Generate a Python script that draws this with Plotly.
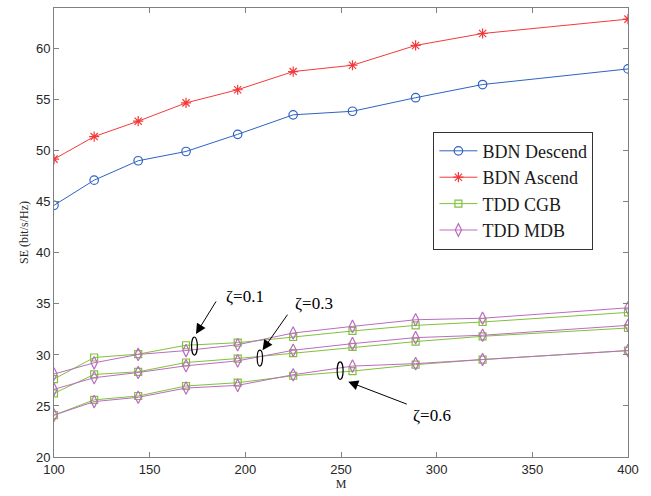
import plotly.graph_objects as go

M = [100, 121, 144, 169, 196, 225, 256, 289, 324, 400]

bdn_descend = [44.66, 47.13, 49.03, 49.94, 51.62, 53.53, 53.88, 55.21, 56.5, 58.03]
bdn_ascend = [49.19, 51.4, 52.91, 54.7, 55.99, 57.77, 58.39, 60.33, 61.5, 62.91]

cgb_z01 = [27.64, 29.75, 30.08, 30.95, 31.2, 31.76, 32.35, 32.9, 33.23, 34.17]
mdb_z01 = [28.13, 29.23, 30.05, 30.43, 31.0, 32.15, 32.8, 33.45, 33.6, 34.62]
cgb_z03 = [26.24, 28.09, 28.35, 29.26, 29.65, 30.17, 30.79, 31.31, 31.83, 32.64]
mdb_z03 = [26.63, 27.77, 28.28, 28.94, 29.42, 30.46, 31.11, 31.7, 31.93, 32.9]
cgb_z06 = [24.1, 25.6, 25.98, 26.96, 27.28, 27.96, 28.42, 29.05, 29.55, 30.43]
mdb_z06 = [24.1, 25.43, 25.85, 26.76, 27.02, 28.06, 28.91, 29.15, 29.55, 30.43]

x_ticks = [100, 150, 200, 250, 300, 350, 400]
y_ticks = [20, 25, 30, 35, 40, 45, 50, 55, 60]

BLUE = "#2F62C2"
RED = "#F23A3A"
GREEN = "#7FC23A"
PURPLE = "#BC6CC0"

fig = go.Figure()

def add(y, name, color, symbol, size, show):
    fig.add_trace(go.Scatter(
        x=M, y=y, name=name, mode="lines+markers",
        line=dict(color=color, width=1),
        marker=dict(symbol=symbol, size=size, color=color,
                    line=dict(color=color, width=1.2)),
        showlegend=show,
    ))

add(bdn_descend, "BDN Descend", BLUE, "circle-open", 8.5, True)
add(bdn_ascend, "BDN Ascend", RED, "asterisk-open", 8.5, True)
add(cgb_z01, "TDD CGB", GREEN, "square-open", 7, True)
add(mdb_z01, "TDD MDB", PURPLE, "diamond-tall-open", 9, True)
add(cgb_z03, "TDD CGB", GREEN, "square-open", 7, False)
add(mdb_z03, "TDD MDB", PURPLE, "diamond-tall-open", 9, False)
add(cgb_z06, "TDD CGB", GREEN, "square-open", 7, False)
add(mdb_z06, "TDD MDB", PURPLE, "diamond-tall-open", 9, False)

# ellipses (data coordinates)
ellipses = [(171.9, 174.9, 29.98, 31.76), (206.2, 209.0, 28.91, 30.47), (248.0, 251.1, 27.6, 29.33)]
for x0, x1, y0, y1 in ellipses:
    fig.add_shape(type="circle", xref="x", yref="y", x0=x0, x1=x1, y0=y0, y1=y1,
                  line=dict(color="black", width=1.2))

serif = "Liberation Serif, Times New Roman, serif"
# arrows
arrows = [(174.2, 32.06, 21, -34), (209.0, 30.47, 26, -37), (253.8, 27.38, 60, 23)]
for x, y, ax, ay in arrows:
    fig.add_annotation(x=x, y=y, ax=ax, ay=ay, xref="x", yref="y", text="",
                       showarrow=True, arrowhead=2, arrowsize=2, arrowwidth=1,
                       arrowcolor="black")

labels = [("ζ=0.1", 245, 298), ("ζ=0.3", 314, 305), ("ζ=0.6", 432, 419)]
for t, px, py in labels:
    fig.add_annotation(x=(px - 54) / 574, y=(460.7 - py) / 454, xref="paper", yref="paper",
                       text=t, showarrow=False, font=dict(family=serif, size=17, color="black"),
                       xanchor="center", yanchor="middle")

axis_common = dict(showline=True, linecolor="#808080", linewidth=1, mirror="ticks",
                   ticks="inside", ticklen=5, tickcolor="#808080", showgrid=False,
                   zeroline=False, tickfont=dict(family="Liberation Sans, Arial, sans-serif",
                                                 size=13, color="#262626"))

fig.update_layout(
    width=651, height=496,
    margin=dict(l=54, r=23, t=7, b=35),
    paper_bgcolor="white", plot_bgcolor="white",
    xaxis=dict(range=[100, 400], tickvals=x_ticks,
               title=dict(text="M", font=dict(family=serif, size=12, color="#262626"), standoff=4),
               **axis_common),
    yaxis=dict(range=[20, 64], tickvals=y_ticks,
               title=dict(text="SE (bit/s/Hz)", font=dict(family=serif, size=12, color="#262626"), standoff=4),
               **axis_common),
    legend=dict(x=0.661, y=0.7247, xanchor="left", yanchor="top",
                bgcolor="white", bordercolor="#333333", borderwidth=1,
                font=dict(family=serif, size=18, color="#1a1a1a"),
                tracegroupgap=0, itemwidth=38),
    showlegend=True,
)

fig.write_html("out.html")
